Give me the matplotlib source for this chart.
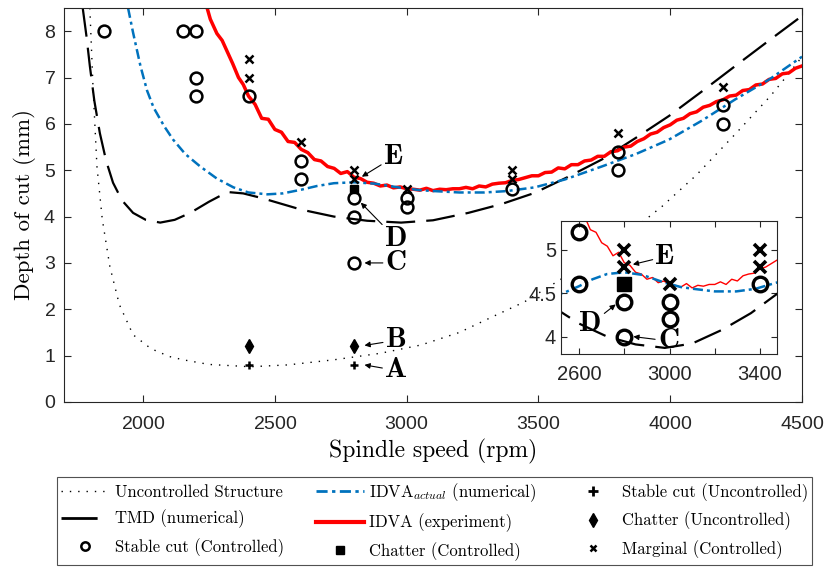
import matplotlib
matplotlib.use('Agg')
import matplotlib.pyplot as plt
from matplotlib.lines import Line2D

plt.rcParams['mathtext.fontset'] = 'cm'
plt.rcParams['axes.formatter.use_mathtext'] = True

# ---- curves ----
unc_rpm = [1798, 1810, 1825, 1845, 1874, 1910, 1962, 2030, 2100, 2152, 2250, 2407, 2550, 2724,
           2900, 3055, 3200, 3330, 3447, 3600, 3800, 3969, 4100, 4250, 4380, 4452, 4500]
unc_doc = [8.5, 6.8, 5.08, 3.95, 2.92, 2.1, 1.45, 1.15, 0.98, 0.91, 0.81, 0.76, 0.8, 0.91,
           1.05, 1.23, 1.5, 1.85, 2.16, 2.7, 3.45, 4.22, 4.9, 5.8, 6.6, 7.1, 7.45]

tmd_rpm = [1771, 1785, 1798, 1815, 1836, 1860, 1886, 1920, 1962, 2010, 2065, 2120, 2179, 2250,
           2320, 2380, 2450, 2510, 2600, 2724, 2850, 2979, 3100, 3234, 3360, 3485, 3610, 3740,
           3870, 3995, 4120, 4247, 4375, 4500]
tmd_doc = [8.5, 7.9, 7.25, 6.5, 5.8, 5.2, 4.73, 4.35, 4.08, 3.93, 3.87, 3.93, 4.08, 4.32,
           4.53, 4.5, 4.4, 4.3, 4.15, 4.0, 3.91, 3.87, 3.92, 4.08, 4.27, 4.51, 4.85, 5.23,
           5.7, 6.17, 6.7, 7.25, 7.8, 8.33]

idva_num_rpm = [1943, 1962, 1990, 2015, 2040, 2080, 2114, 2160, 2217, 2280, 2343, 2400, 2472,
                2530, 2600, 2660, 2724, 2800, 2880, 2979, 3050, 3104, 3200, 3295, 3380, 3485,
                3600, 3740, 3870, 3995, 4120, 4247, 4376, 4500]
idva_num_doc = [8.5, 7.97, 7.25, 6.72, 6.35, 5.95, 5.66, 5.35, 5.08, 4.82, 4.63, 4.52, 4.48,
                4.5, 4.58, 4.66, 4.72, 4.74, 4.71, 4.62, 4.57, 4.55, 4.52, 4.52, 4.55, 4.63,
                4.8, 5.08, 5.35, 5.66, 6.07, 6.53, 6.96, 7.45]

idva_exp_rpm = [2243, 2255, 2280, 2300, 2320, 2340, 2362, 2380, 2400, 2425, 2450, 2475, 2500,
                2525, 2550, 2575, 2600, 2625, 2650, 2675, 2700, 2725, 2750, 2775, 2800, 2825,
                2850, 2875, 2900, 2925, 2950, 2975, 3000, 3025, 3050, 3075, 3100, 3125, 3150,
                3175, 3200, 3225, 3250, 3275, 3300, 3325, 3350, 3375, 3400, 3425, 3450, 3475,
                3500, 3525, 3550, 3575, 3600, 3625, 3650, 3675, 3700, 3725, 3750, 3775, 3800,
                3825, 3850, 3875, 3900, 3925, 3950, 3975, 4000, 4025, 4050, 4075, 4100, 4125,
                4150, 4175, 4200, 4225, 4250, 4275, 4300, 4325, 4350, 4375, 4400, 4425, 4450,
                4475, 4500]
idva_exp_doc = [8.5, 8.26, 7.95, 7.8, 7.55, 7.3, 7.0, 6.85, 6.6, 6.42, 6.12, 6.1, 5.88,
                5.82, 5.62, 5.6, 5.45, 5.38, 5.23, 5.2, 5.08, 5.04, 4.93, 4.97, 4.85, 4.82,
                4.74, 4.72, 4.66, 4.68, 4.62, 4.64, 4.6, 4.59, 4.57, 4.61, 4.56, 4.59, 4.58,
                4.6, 4.6, 4.63, 4.6, 4.66, 4.64, 4.7, 4.72, 4.73, 4.78, 4.8, 4.84, 4.88,
                4.88, 4.95, 4.96, 5.05, 5.03, 5.12, 5.12, 5.2, 5.22, 5.3, 5.3, 5.4, 5.42,
                5.5, 5.52, 5.62, 5.68, 5.78, 5.82, 5.92, 5.98, 6.08, 6.12, 6.22, 6.26, 6.36,
                6.4, 6.48, 6.52, 6.6, 6.62, 6.72, 6.74, 6.84, 6.86, 6.96, 6.98, 7.08, 7.1,
                7.2, 7.25]

# ---- experiment points ----
stable_ctrl_rpm = [1850, 2150, 2200, 2200, 2200, 2400, 2600, 2600, 2800, 2800, 2800, 3000, 3000,
                   3400, 3800, 3800, 4200, 4200]
stable_ctrl_doc = [8.0, 8.0, 8.0, 7.0, 6.6, 6.6, 5.2, 4.8, 4.4, 4.0, 3.0, 4.4, 4.2,
                   4.6, 5.4, 5.0, 6.4, 6.0]
marginal_rpm = [2400, 2400, 2600, 2800, 2800, 3000, 3400, 3400, 3800, 4200]
marginal_doc = [7.4, 7.0, 5.6, 5.0, 4.8, 4.6, 5.0, 4.8, 5.8, 6.8]
chatter_ctrl_rpm = [2800]
chatter_ctrl_doc = [4.6]
stable_unc_rpm = [2400, 2800]
stable_unc_doc = [0.8, 0.8]
chatter_unc_rpm = [2400, 2800]
chatter_unc_doc = [1.2, 1.2]

# inset shows the stable points around 2600 slightly differently
inset_stable_rpm = [2600, 2600, 2800, 2800, 3000, 3000, 3400]
inset_stable_doc = [5.2, 4.6, 4.4, 4.0, 4.4, 4.2, 4.6]
inset_marg_rpm = [2800, 2800, 3000, 3400, 3400]
inset_marg_doc = [5.0, 4.8, 4.6, 5.0, 4.8]

blue = '#0072BD'
red = '#FF0000'
serif = 'cmr10'
tick_col = '#262626'
dot_ls = (0, (1, 5))
dash_ls = (0, (13, 5))
dashdot_ls = (0, (4, 1.6, 1.2, 1.6))

fig = plt.figure(figsize=(8.27, 5.68), dpi=100)
ax = fig.add_axes([0.0774, 0.2923, 0.8924, 0.6936])


def draw_curves(a, red_lw=2.5):
    a.plot(unc_rpm, unc_doc, color='k', ls=dot_ls, lw=1.0)
    a.plot(tmd_rpm, tmd_doc, color='k', ls=dash_ls, lw=1.6)
    a.plot(idva_exp_rpm, idva_exp_doc, color=red, lw=red_lw)
    a.plot(idva_num_rpm, idva_num_doc, color=blue, ls=dashdot_ls, lw=1.8)


draw_curves(ax)
ax.plot(stable_ctrl_rpm, stable_ctrl_doc, 'o', mfc='none', mec='k', ms=8.5, mew=1.8)
ax.plot(marginal_rpm, marginal_doc, 'x', color='k', ms=5.5, mew=1.8)
ax.plot(chatter_ctrl_rpm, chatter_ctrl_doc, 's', color='k', ms=5.5)
ax.plot(stable_unc_rpm, stable_unc_doc, '+', color='k', ms=6, mew=1.8)
ax.plot(chatter_unc_rpm, chatter_unc_doc, 'd', color='k', ms=7)

ax.set_xlim(1700, 4500)
ax.set_ylim(0, 8.5)
ax.set_xticks([2000, 2500, 3000, 3500, 4000, 4500])
ax.set_yticks(range(0, 9))
ax.tick_params(direction='in', top=True, right=True, labelsize=14, colors=tick_col,
               length=5, width=0.8)
ax.tick_params(axis='x', pad=10)
ax.tick_params(axis='y', pad=6)
for lab in ax.get_xticklabels() + ax.get_yticklabels():
    lab.set_family('Liberation Sans')
for s in ax.spines.values():
    s.set_color(tick_col)
    s.set_linewidth(0.8)
ax.set_xlabel('Spindle speed (rpm)', family=serif, fontsize=17, labelpad=4)
ax.set_ylabel('Depth of cut (mm)', family=serif, fontsize=16.5, labelpad=5)

arrow = dict(arrowstyle='-|>', lw=0.8, color='k', mutation_scale=8, shrinkA=0, shrinkB=0)
letter = dict(fontsize=21, family='cmb10', ha='center', va='center')
ax.annotate('E', xy=(2830, 4.86), xytext=(2950, 5.28), arrowprops=arrow, **letter)
ax.annotate('D', xy=(2826, 4.3), xytext=(2960, 3.52), arrowprops=arrow, **letter)
ax.annotate('C', xy=(2840, 3.0), xytext=(2960, 3.0), arrowprops=arrow, **letter)
ax.annotate('B', xy=(2840, 1.22), xytext=(2960, 1.33), arrowprops=arrow, **letter)
ax.annotate('A', xy=(2840, 0.8), xytext=(2960, 0.68), arrowprops=arrow, **letter)

# ---- inset ----
ins = fig.add_axes([0.6783, 0.3768, 0.2612, 0.2341])
ins.set_facecolor('white')
draw_curves(ins, red_lw=1.0)
ins.plot(inset_stable_rpm, inset_stable_doc, 'o', mfc='none', mec='k', ms=10.5, mew=2.4)
ins.plot(inset_marg_rpm, inset_marg_doc, 'x', color='k', ms=8.5, mew=2.6)
ins.plot(chatter_ctrl_rpm, chatter_ctrl_doc, 's', color='k', ms=10)
ins.set_xlim(2520, 3475)
ins.set_ylim(3.8, 5.33)
ins.set_xticks([2600, 2800, 3000, 3200, 3400])
ins.set_xticklabels(['2600', '', '3000', '', '3400'])
ins.set_yticks([4, 4.5, 5])
ins.set_yticklabels(['4', '4.5', '5'])
ins.tick_params(direction='in', top=True, right=True, labelsize=14.5, colors=tick_col,
                length=4, width=0.8)
ins.tick_params(axis='x', pad=8)
for lab in ins.get_xticklabels() + ins.get_yticklabels():
    lab.set_family('Liberation Sans')
for s in ins.spines.values():
    s.set_color(tick_col)
    s.set_linewidth(0.8)
ins.annotate('E', xy=(2838, 4.83), xytext=(2980, 4.92), arrowprops=arrow, **letter)
ins.annotate('D', xy=(2762, 4.37), xytext=(2650, 4.14), arrowprops=arrow, **letter)
ins.annotate('C', xy=(2840, 4.0), xytext=(2995, 3.95), arrowprops=arrow, **letter)

# ---- legend ----
handles = [
    Line2D([], [], color='k', ls=dot_ls, lw=1.0),
    Line2D([], [], color='k', ls=dash_ls, lw=2),
    Line2D([], [], ls='none', marker='o', mfc='none', mec='k', ms=6, mew=1.8),
    Line2D([], [], color=blue, ls=dashdot_ls, lw=2),
    Line2D([], [], color=red, lw=3),
    Line2D([], [], ls='none', marker='s', color='k', ms=5.5),
    Line2D([], [], ls='none', marker='+', color='k', ms=7, mew=2),
    Line2D([], [], ls='none', marker='d', color='k', ms=7),
    Line2D([], [], ls='none', marker='x', color='k', ms=5, mew=1.8),
]
labels = [
    'Uncontrolled Structure',
    'TMD (numerical)',
    'Stable cut (Controlled)',
    r'IDVA$_{actual}$ (numerical)',
    'IDVA (experiment)',
    'Chatter (Controlled)',
    'Stable cut (Uncontrolled)',
    'Chatter (Uncontrolled)',
    'Marginal (Controlled)',
]
leg = fig.legend(handles, labels, ncol=3, loc='lower left',
                 bbox_to_anchor=(0.069, 0.005, 0.913, 0.16), mode='expand',
                 prop={'family': serif, 'size': 12}, handlelength=2.9,
                 handletextpad=0.3, labelspacing=0.6, columnspacing=0.8,
                 fancybox=False, edgecolor=tick_col, borderaxespad=0.0,
                 borderpad=0.25)
leg.get_frame().set_linewidth(0.8)

fig.savefig('out.png', dpi=100)
